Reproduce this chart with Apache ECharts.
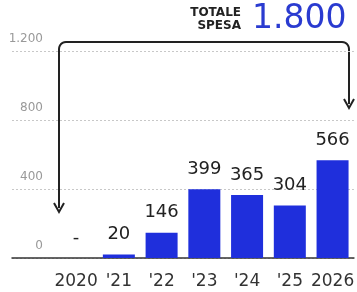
<!DOCTYPE html>
<html><head><meta charset="utf-8">
<script src="https://cdn.jsdelivr.net/npm/echarts@6/dist/echarts.min.js"></script>
<style>html,body{margin:0;padding:0;background:#fff}#c{width:357px;height:292px}</style>
</head><body><div id="c"></div>
<script>
const categories = ['2020', "'21", "'22", "'23", "'24", "'25", '2026'];
const values = [0, 20, 146, 399, 365, 304, 566];
const yTicks = [0, 400, 800, 1200];
const yTickLabels = ['0', '400', '800', '1.200'];
const totalLabel = ['TOTALE', 'SPESA'];
const totalValue = '1.800';

function corner(cx, cy, r, a0, a1) {
  const pts = [];
  for (let i = 0; i <= 6; i++) {
    const a = a0 + (a1 - a0) * i / 6;
    pts.push([cx + r * Math.cos(a), cy + r * Math.sin(a)]);
  }
  return pts;
}
const r = 7;
const arrowPts = [[59, 208]]
  .concat(corner(59 + r, 42 + r, r, Math.PI, 1.5 * Math.PI))
  .concat(corner(349 - r, 42 + r, r, 1.5 * Math.PI, 2 * Math.PI))
  .concat([[349, 104]]);

const chart = echarts.init(document.getElementById('c'), null, {renderer: 'canvas'});
const font = 'DejaVu Sans';
chart.setOption({
  animation: false,
  grid: {left: 12, right: 0, top: 51, bottom: 34},
  xAxis: {
    type: 'category',
    data: [''].concat(categories),
    axisLine: {lineStyle: {color: '#333', width: 1.5}},
    axisTick: {show: false},
    axisLabel: {interval: 0, color: '#333', fontFamily: font, fontSize: 17, margin: 15}
  },
  yAxis: {
    type: 'value', min: 0, max: 1200, interval: 400,
    axisLine: {show: false}, axisTick: {show: false},
    splitLine: {show: true, lineStyle: {color: '#c8c8c8', type: [2, 2], width: 1}},
    axisLabel: {
      inside: true, margin: 31, align: 'right', verticalAlign: 'bottom',
      padding: [0, 0, 6, 0], color: '#999', fontFamily: font, fontSize: 12,
      formatter: v => yTickLabels[yTicks.indexOf(v)]
    }
  },
  series: [{
    type: 'bar',
    data: [null].concat(values),
    barWidth: 32,
    itemStyle: {color: '#1f2fdc'},
    label: {
      show: true, position: 'top', distance: 11, color: '#222',
      fontFamily: font, fontSize: 18,
      formatter: p => p.value === 0 ? '-' : String(p.value)
    }
  }],
  graphic: [
    {type: 'text', x: 241, y: 6, style: {text: totalLabel.join('\n'), font: 'bold 12px "DejaVu Sans"', fill: '#222', align: 'right', lineHeight: 13}},
    {type: 'text', x: 252, y: 3, style: {text: totalValue, font: '33px "DejaVu Sans"', fill: '#2a3bd0'}},
    {type: 'polyline', shape: {points: arrowPts}, style: {stroke: '#222', lineWidth: 2, fill: null}},
    {type: 'polyline', shape: {points: [[54,203],[59,212],[64,203]]}, style: {stroke: '#222', lineWidth: 2, fill: null}},
    {type: 'polyline', shape: {points: [[344,99],[349,108],[354,99]]}, style: {stroke: '#222', lineWidth: 2, fill: null}}
  ]
});
</script></body></html>
